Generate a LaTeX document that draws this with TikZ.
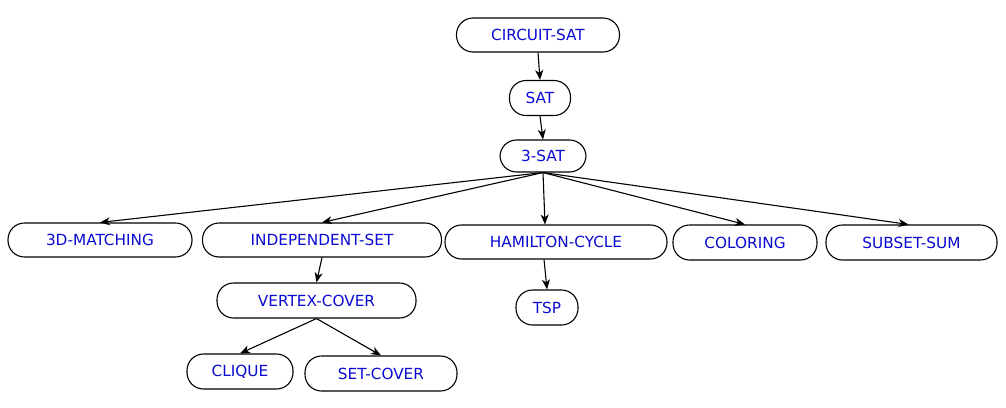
\documentclass[tikz,border=0pt]{standalone}
\usepackage{fontspec}
\setmainfont{DejaVu Sans}
\usetikzlibrary{arrows.meta}
\definecolor{labelblue}{RGB}{10,10,210}
\tikzset{
  box/.style={draw=black, line width=1.1pt, rounded corners=16.5pt, inner sep=0pt,
    minimum height=34pt, text=labelblue, font=\fontsize{15.3pt}{17pt}\selectfont},
  arr/.style={-{Stealth[length=10pt,width=8pt,inset=3pt]}, line width=1.1pt, black}
}
\begin{document}
\begin{tikzpicture}[x=1pt,y=-1pt]
\useasboundingbox (0,0) rectangle (1006,407);
\node[box, minimum width=163pt] (circ) at (538,35) {CIRCUIT-SAT};
\node[box, minimum width=61pt, minimum height=35pt] (sat) at (540,98) {SAT};
\node[box, minimum width=86pt, minimum height=32pt] (tsat) at (543,156) {3-SAT};
\node[box, minimum width=184pt] (match) at (100,240) {3D-MATCHING};
\node[box, minimum width=239pt] (indep) at (322,240) {INDEPENDENT-SET};
\node[box, minimum width=222pt] (ham) at (556,242) {HAMILTON-CYCLE};
\node[box, minimum width=144pt, minimum height=35pt] (color) at (745,242.5) {COLORING};
\node[box, minimum width=171pt, minimum height=35pt] (subset) at (911.5,242.5) {SUBSET-SUM};
\node[box, minimum width=199pt, minimum height=35pt] (vc) at (316.5,300.5) {VERTEX-COVER};
\node[box, minimum width=62pt, minimum height=35pt] (tsp) at (547,307.5) {TSP};
\node[box, minimum width=106pt, minimum height=35pt] (clique) at (240,371.5) {CLIQUE};
\node[box, minimum width=152pt, minimum height=35pt] (setc) at (381,373.5) {SET-COVER};

\draw[arr] (circ.south) -- (sat.north);
\draw[arr] (sat.south) -- (tsat.north);
\draw[arr] (tsat.south) -- (match.north);
\draw[arr] (tsat.south) -- (indep.north);
\draw[arr] (tsat.south) -- ([xshift=-11pt]ham.north);
\draw[arr] (tsat.south) -- (color.north);
\draw[arr] (tsat.south) -- ([xshift=-3pt]subset.north);
\draw[arr] (indep.south) -- (vc.north);
\draw[arr] ([xshift=-12pt]ham.south) -- (tsp.north);
\draw[arr] (vc.south) -- (clique.north);
\draw[arr] (vc.south) -- (setc.north);
\end{tikzpicture}
\end{document}
